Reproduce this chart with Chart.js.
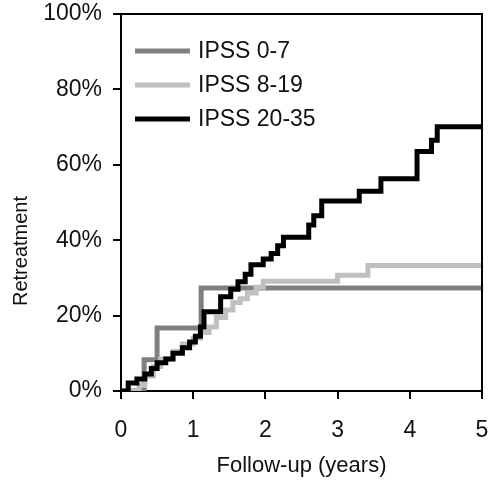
<!DOCTYPE html>
<html>
<head>
<meta charset="utf-8">
<script src="https://cdn.jsdelivr.net/npm/chart.js@4"></script>
<style>
  html, body { margin: 0; padding: 0; background: #fff; }
</style>
</head>
<body>
<canvas id="myChart" width="488" height="483"></canvas>
<script>
// follow-up time (years) and cumulative retreatment (%) per IPSS group
const seriesNames = ['IPSS 0-7', 'IPSS 8-19', 'IPSS 20-35'];

const tLow = [0, 0.32, 0.5, 1.11, 5];
const rLow = [0, 8.3, 16.7, 27.3, 27.3];

const tMid = [0, 0.25, 0.33, 0.45, 0.55, 0.72, 0.85, 1.0, 1.1, 1.22, 1.32, 1.45, 1.55, 1.65, 1.75, 1.87, 1.97, 3.0, 3.42, 5];
const rMid = [0, 1.5, 4, 6.5, 8.5, 10.5, 12.5, 14, 15.5, 17, 19.5, 21.5, 23.5, 24.5, 26, 27.5, 29.1, 30.7, 33.3, 33.3];

const tHigh = [0, 0.1, 0.22, 0.33, 0.42, 0.5, 0.62, 0.72, 0.85, 0.95, 1.03, 1.1, 1.15, 1.38, 1.52, 1.62, 1.72, 1.8, 1.97, 2.08, 2.17, 2.25, 2.6, 2.67, 2.78, 3.3, 3.6, 4.1, 4.3, 4.38, 5];
const rHigh = [0, 2.1, 3.2, 4.5, 6, 7.5, 8.5, 10, 11.5, 13, 14.5, 17, 21, 25, 27, 29, 31, 33.5, 35, 36.5, 38.5, 40.8, 44, 46.5, 50.4, 53, 56.3, 63.5, 66.5, 70.1, 70.1];

const xTicks = [0, 1, 2, 3, 4, 5];
const yTicks = [0, 20, 40, 60, 80, 100];

const colors = ['#808080', '#c0c0c0', '#000000'];

const toPoints = (t, r) => t.map((x, i) => ({ x: x, y: r[i] }));

const font = 'Liberation Sans, Arial, sans-serif';

// frame, legend and y title drawn on the canvas
const extras = {
  id: 'extras',
  afterDatasetsDraw(chart) {
    const ctx = chart.ctx;
    const a = chart.chartArea;
    ctx.save();
    ctx.strokeStyle = '#000';
    ctx.lineWidth = 2;
    ctx.beginPath();
    ctx.moveTo(a.left, a.top);
    ctx.lineTo(a.right, a.top);
    ctx.lineTo(a.right, a.bottom);
    ctx.stroke();

    ctx.font = '23px ' + font;
    ctx.textBaseline = 'middle';
    ctx.fillStyle = '#111';
    chart.data.datasets.forEach((ds, i) => {
      const y = a.top + 37 + i * 34;
      ctx.strokeStyle = ds.borderColor;
      ctx.lineWidth = 5;
      ctx.beginPath();
      ctx.moveTo(a.left + 14, y);
      ctx.lineTo(a.left + 69, y);
      ctx.stroke();
      ctx.fillText(ds.label, a.left + 77, y + 1);
    });

    ctx.translate(21, 251);
    ctx.rotate(-Math.PI / 2);
    ctx.textAlign = 'center';
    ctx.font = '20px ' + font;
    ctx.fillText('Retreatment', 0, 0);
    ctx.restore();
  }
};

const ctx = document.getElementById('myChart').getContext('2d');
const chart = new Chart(ctx, {
  type: 'line',
  data: {
    datasets: [
      { label: seriesNames[0], data: toPoints(tLow, rLow), borderColor: colors[0], order: 2 },
      { label: seriesNames[1], data: toPoints(tMid, rMid), borderColor: colors[1], order: 1 },
      { label: seriesNames[2], data: toPoints(tHigh, rHigh), borderColor: colors[2], order: 0 }
    ]
  },
  options: {
    responsive: false,
    animation: false,
    layout: { padding: { left: 0, top: 14, right: 6, bottom: 0 } },
    elements: {
      line: { stepped: 'before', borderWidth: 5, borderJoinStyle: 'miter', borderCapStyle: 'butt', fill: false, tension: 0 },
      point: { radius: 0, hoverRadius: 0 }
    },
    plugins: { legend: { display: false }, tooltip: { enabled: false } },
    scales: {
      x: {
        type: 'linear',
        min: 0, max: 5,
        afterFit: s => { s.height = 92; s.paddingLeft = 0; s.paddingRight = 0; },
        afterBuildTicks: s => { s.ticks = xTicks.map(v => ({ value: v })); },
        grid: { drawOnChartArea: false, drawTicks: true, tickLength: 8, lineWidth: 2, color: '#000' },
        border: { color: '#000', width: 2 },
        ticks: { padding: 18, color: '#111', font: { family: font, size: 23 } },
        title: { display: true, text: 'Follow-up (years)', color: '#111', font: { family: font, size: 22 }, padding: { top: 6 } }
      },
      y: {
        min: 0, max: 100,
        afterFit: s => { s.width = 121; s.paddingTop = 0; s.paddingBottom = 0; },
        afterBuildTicks: s => { s.ticks = yTicks.map(v => ({ value: v })); },
        grid: { drawOnChartArea: false, drawTicks: true, tickLength: 8, lineWidth: 2, color: '#000' },
        border: { color: '#000', width: 2 },
        ticks: { padding: 11, color: '#111', font: { family: font, size: 23 }, callback: v => v + '%' }
      }
    }
  },
  plugins: [extras]
});
</script>
</body>
</html>
